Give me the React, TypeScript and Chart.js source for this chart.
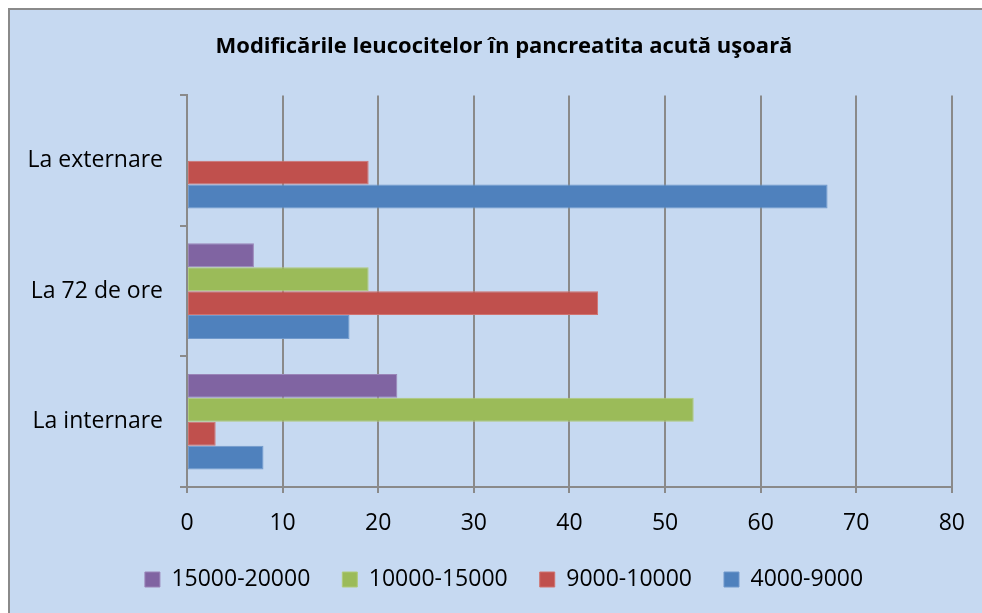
import React, { useEffect, useRef } from "react";
import { Chart, registerables } from "chart.js";

Chart.register(...registerables);

const categories = ["La externare", "La 72 de ore", "La internare"];
const seriesNames = ["15000-20000", "10000-15000", "9000-10000", "4000-9000"];
const values15000_20000 = [null, 7, 22];
const values10000_15000 = [null, 19, 53];
const values9000_10000 = [19, 43, 3];
const values4000_9000 = [67, 17, 8];
const seriesColors = ["#8064a2", "#9bbb59", "#c0504d", "#4f81bd"];
const seriesBorders = ["#9a85b8", "#b0cb7b", "#d0726f", "#7099cc"];
const xTickMin = 0;
const xTickMax = 80;
const xTickStep = 10;
const titleText = "Modificările leucocitelor în pancreatita acută uşoară";

const FONT = "'Open Sans', sans-serif";
const GRID = "#8a8a8a";
const PAD_LEFT = 16;

export default function App() {
  const ref = useRef<HTMLCanvasElement | null>(null);

  useEffect(() => {
    document.documentElement.style.overflow = "hidden";
    document.body.style.overflow = "hidden";
    const canvas = ref.current;
    if (!canvas) return;
    const seriesValues = [values15000_20000, values10000_15000, values9000_10000, values4000_9000];
    const chart = new Chart(canvas, {
      type: "bar",
      data: {
        labels: categories,
        datasets: seriesNames.map((name, i) => ({
          label: name,
          data: seriesValues[i] as any,
          backgroundColor: seriesColors[i],
          borderColor: seriesBorders[i],
          borderWidth: 1,
          borderSkipped: false,
          categoryPercentage: 0.733,
          barPercentage: 1,
          xAxisID: "x",
          yAxisID: "y",
        })),
      },
      options: {
        indexAxis: "y",
        animation: false,
        responsive: false,
        maintainAspectRatio: false,
        layout: { padding: { left: PAD_LEFT, right: 0, top: 0, bottom: 12 } },
        plugins: {
          title: {
            display: true,
            text: titleText,
            color: "#000000",
            font: { family: FONT, size: 22, weight: "bold" },
            padding: { top: 24, bottom: 35 },
          },
          legend: {
            display: true,
            position: "bottom",
            labels: {
              color: "#000000",
              font: { family: FONT, size: 23 },
              boxWidth: 15,
              boxHeight: 15,
              padding: 32,
            },
          },
          tooltip: { enabled: false },
        },
        scales: {
          x: {
            type: "linear",
            min: xTickMin,
            max: xTickMax,
            ticks: {
              stepSize: xTickStep,
              color: "#000000",
              font: { family: FONT, size: 23 },
              padding: 17,
            },
            grid: {
              color: GRID,
              lineWidth: 2,
              tickLength: 6,
              drawTicks: true,
            },
            border: { display: true, color: GRID, width: 2 },
            afterFit: (scale: any) => {
              const legendH = scale.chart.legend ? scale.chart.legend.height : 0;
              scale.height = 603 - 12 - legendH - 477;
            },
          },
          y: {
            type: "category",
            offset: true,
            ticks: {
              color: "#000000",
              font: { family: FONT, size: 23 },
              padding: 17,
            },
            grid: {
              offset: true,
              drawOnChartArea: false,
              color: GRID,
              lineWidth: 2,
              tickLength: 7,
            },
            border: { display: true, color: GRID, width: 2 },
            afterFit: (scale: any) => {
              scale.width = 177 - PAD_LEFT;
            },
          },
          yRightSpace: {
            type: "linear",
            position: "right",
            display: true,
            ticks: { display: false },
            grid: { display: false },
            border: { display: false },
            afterFit: (scale: any) => {
              scale.width = 30;
            },
          },
        },
      },
    });
    return () => chart.destroy();
  }, []);

  return (
    <div
      style={{
        position: "fixed",
        left: 8,
        top: 8,
        right: 0,
        bottom: 0,
        overflow: "hidden",
        background: "#c6d9f1",
        borderLeft: "2px solid #8a8a8a",
        borderTop: "2px solid #8a8a8a",
      }}
    >
      <canvas ref={ref} width={972} height={603} style={{ display: "block" }} />
    </div>
  );
}
